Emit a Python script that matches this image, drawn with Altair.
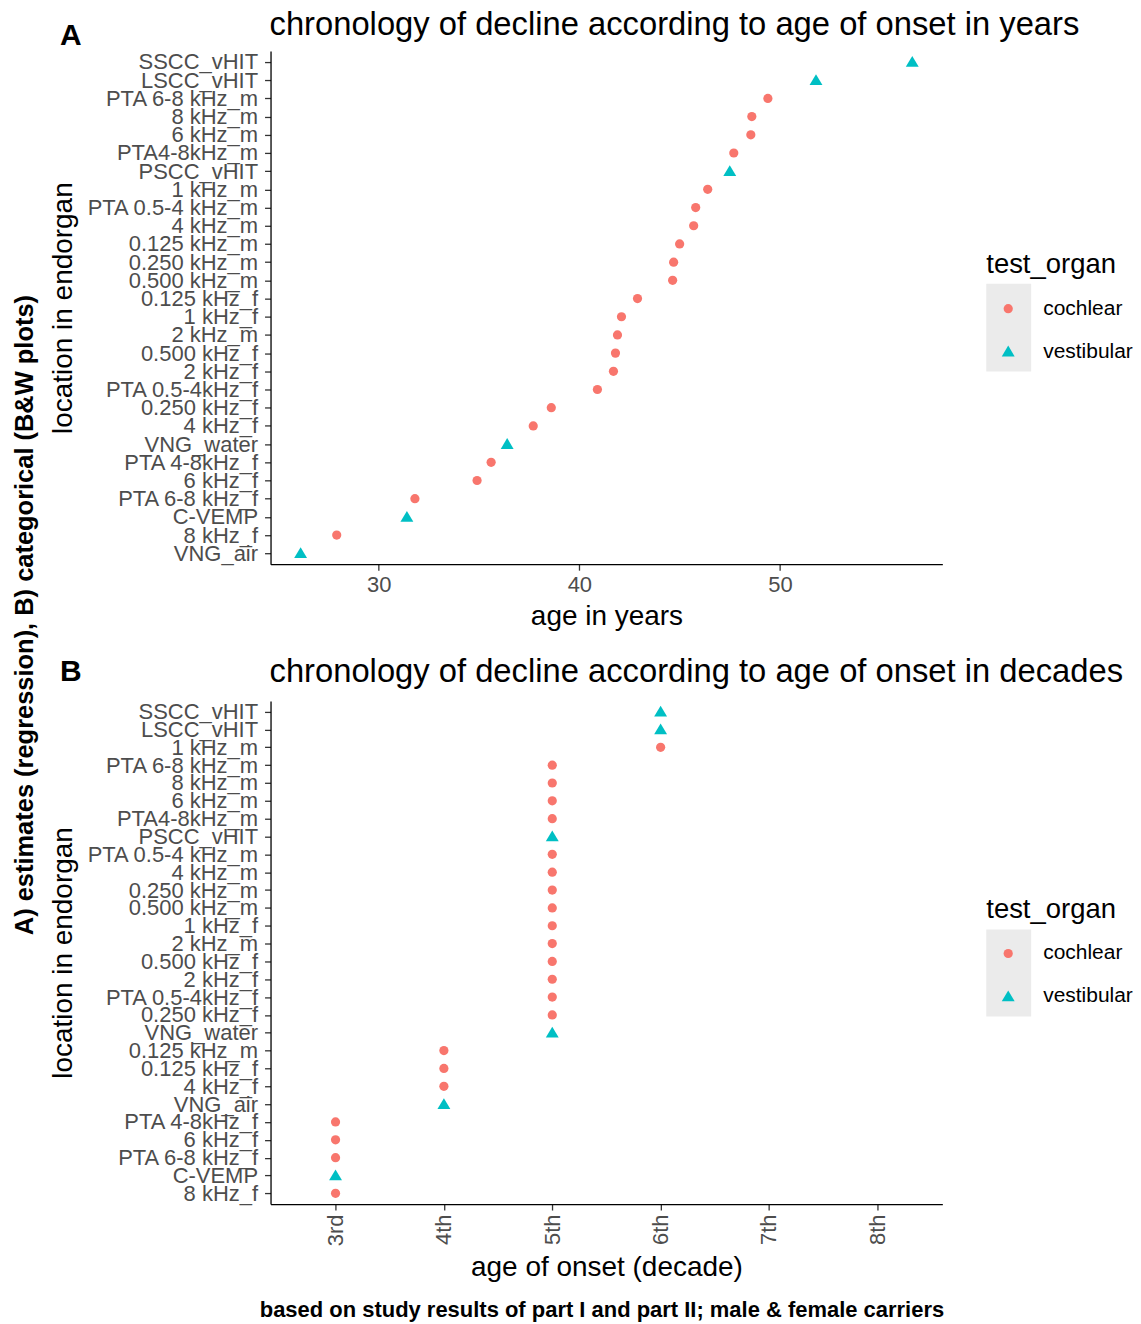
import altair as alt
import pandas as pd

# ---------------- data ----------------
# Panel A: estimated age of onset in years (top to bottom order)
labels_a = ["SSCC_vHIT", "LSCC_vHIT", "PTA 6-8 kHz_m", "8 kHz_m", "6 kHz_m",
            "PTA4-8kHz_m", "PSCC_vHIT", "1 kHz_m", "PTA 0.5-4 kHz_m", "4 kHz_m",
            "0.125 kHz_m", "0.250 kHz_m", "0.500 kHz_m", "0.125 kHz_f", "1 kHz_f",
            "2 kHz_m", "0.500 kHz_f", "2 kHz_f", "PTA 0.5-4kHz_f", "0.250 kHz_f",
            "4 kHz_f", "VNG_water", "PTA 4-8kHz_f", "6 kHz_f", "PTA 6-8 kHz_f",
            "C-VEMP", "8 kHz_f", "VNG_air"]
ages_a = [56.6, 51.8, 49.4, 48.6, 48.55, 47.7, 47.5, 46.4, 45.8, 45.7,
          45.0, 44.7, 44.65, 42.9, 42.1, 41.9, 41.8, 41.7, 40.9, 38.6,
          37.7, 36.4, 35.6, 34.9, 31.8, 31.4, 27.9, 26.1]
organ_a = ["vestibular", "vestibular", "cochlear", "cochlear", "cochlear",
           "cochlear", "vestibular", "cochlear", "cochlear", "cochlear",
           "cochlear", "cochlear", "cochlear", "cochlear", "cochlear",
           "cochlear", "cochlear", "cochlear", "cochlear", "cochlear",
           "cochlear", "vestibular", "cochlear", "cochlear", "cochlear",
           "vestibular", "cochlear", "vestibular"]

# Panel B: age of onset in decades (top to bottom order)
labels_b = ["SSCC_vHIT", "LSCC_vHIT", "1 kHz_m", "PTA 6-8 kHz_m", "8 kHz_m",
            "6 kHz_m", "PTA4-8kHz_m", "PSCC_vHIT", "PTA 0.5-4 kHz_m", "4 kHz_m",
            "0.250 kHz_m", "0.500 kHz_m", "1 kHz_f", "2 kHz_m", "0.500 kHz_f",
            "2 kHz_f", "PTA 0.5-4kHz_f", "0.250 kHz_f", "VNG_water", "0.125 kHz_m",
            "0.125 kHz_f", "4 kHz_f", "VNG_air", "PTA 4-8kHz_f", "6 kHz_f",
            "PTA 6-8 kHz_f", "C-VEMP", "8 kHz_f"]
decade_b = ["6th", "6th", "6th", "5th", "5th", "5th", "5th", "5th", "5th", "5th",
            "5th", "5th", "5th", "5th", "5th", "5th", "5th", "5th", "5th", "4th",
            "4th", "4th", "4th", "3rd", "3rd", "3rd", "3rd", "3rd"]
organ_b = ["vestibular", "vestibular", "cochlear", "cochlear", "cochlear",
           "cochlear", "cochlear", "vestibular", "cochlear", "cochlear",
           "cochlear", "cochlear", "cochlear", "cochlear", "cochlear",
           "cochlear", "cochlear", "cochlear", "vestibular", "cochlear",
           "cochlear", "cochlear", "vestibular", "cochlear", "cochlear",
           "cochlear", "vestibular", "cochlear"]
decades = ["3rd", "4th", "5th", "6th", "7th", "8th"]
organs = ["cochlear", "vestibular"]
organ_colors = ["#F8766D", "#00BFC4"]
organ_shapes = ["circle", "M0,-1.3L1.4,1.05L-1.4,1.05Z"]

title_a = ["chronology of decline according to age of onset in years"]
title_b = ["chronology of decline according to age of onset in decades"]
tag_a = ["A"]
tag_b = ["B"]
side_label = ["A) estimates (regression), B) categorical (B&W plots)"]
caption = ["based on study results of part I and part II; male & female carriers"]

FONT = "Liberation Sans"
W = 673
HA = 514
HB = 504
LX = 717

df_a = pd.DataFrame({"label": labels_a, "age": ages_a, "test_organ": organ_a})
df_b = pd.DataFrame({"label": labels_b, "decade": decade_b, "test_organ": organ_b})

axis_common = dict(
    grid=False, domainColor="black", domainWidth=1.3,
    tickColor="#333333", tickWidth=1.3, tickSize=6,
    labelColor="#4D4D4D", labelFontSize=22, labelFont=FONT,
    titleColor="black", titleFontSize=28, titleFont=FONT, titleFontWeight="normal",
)


def legend(ly):
    return alt.Legend(
        title="test_organ", orient="none", legendX=LX, legendY=ly,
        titleFontSize=27.5, titleFont=FONT, titleFontWeight="normal", titleColor="black",
        labelFontSize=21, labelFont=FONT, labelColor="black",
        symbolSize=85, symbolOffset=11.5, labelOffset=24.5, rowPadding=21,
        titlePadding=20, symbolStrokeWidth=0,
    )


def key_bg(y1, y2):
    return alt.Chart(pd.DataFrame({"k": [0]})).mark_rect(color="#EBEBEB").encode(
        x=alt.value(LX), x2=alt.value(LX + 45), y=alt.value(y1), y2=alt.value(y2)
    )


def text_layer(vals, **kw):
    enc = {k: kw.pop(k) for k in ["x", "y"]}
    return alt.Chart(pd.DataFrame({"t": vals})).mark_text(font=FONT, **kw).encode(
        text="t:N", **enc
    )


points_a = alt.Chart(df_a).mark_point(filled=True, size=85, opacity=1).encode(
    x=alt.X("age:Q", title="age in years",
            scale=alt.Scale(domain=[24.6, 58.1], nice=False, zero=False),
            axis=alt.Axis(values=[30, 40, 50], labelPadding=4, titlePadding=7, **axis_common)),
    y=alt.Y("label:N", title="location in endorgan", sort=labels_a,
            scale=alt.Scale(padding=0.6),
            axis=alt.Axis(labelPadding=7, titlePadding=8, **axis_common)),
    color=alt.Color("test_organ:N", scale=alt.Scale(domain=organs, range=organ_colors),
                    legend=legend(200)),
    shape=alt.Shape("test_organ:N", scale=alt.Scale(domain=organs, range=organ_shapes),
                    legend=legend(200)),
)

chart_a = alt.layer(
    key_bg(233, 321),
    points_a,
    text_layer(title_a, x=alt.value(-1), y=alt.value(-16), fontSize=32.8,
               align="left", baseline="alphabetic", color="black"),
    text_layer(tag_a, x=alt.value(-211), y=alt.value(-6), fontSize=30,
               fontWeight="bold", align="left", baseline="alphabetic", color="black"),
    text_layer(side_label, x=alt.value(-246), y=alt.value(565), fontSize=25.5,
               fontWeight="bold", angle=270, align="center", baseline="middle",
               color="black"),
).properties(width=W, height=HA)

points_b = alt.Chart(df_b).mark_point(filled=True, size=85, opacity=1).encode(
    x=alt.X("decade:O", title="age of onset (decade)",
            scale=alt.Scale(domain=decades, padding=0.6),
            axis=alt.Axis(labelAngle=270, labelAlign="right", labelBaseline="middle",
                          labelPadding=4, titlePadding=8, **axis_common)),
    y=alt.Y("label:N", title="location in endorgan", sort=labels_b,
            scale=alt.Scale(padding=0.6),
            axis=alt.Axis(labelPadding=7, titlePadding=8, **axis_common)),
    color=alt.Color("test_organ:N", scale=alt.Scale(domain=organs, range=organ_colors),
                    legend=legend(195)),
    shape=alt.Shape("test_organ:N", scale=alt.Scale(domain=organs, range=organ_shapes),
                    legend=legend(195)),
)

chart_b = alt.layer(
    key_bg(229, 316),
    points_b,
    text_layer(title_b, x=alt.value(-1), y=alt.value(-19), fontSize=32.8,
               align="left", baseline="alphabetic", color="black"),
    text_layer(tag_b, x=alt.value(-211), y=alt.value(-20), fontSize=30,
               fontWeight="bold", align="left", baseline="alphabetic", color="black"),
    text_layer(caption, x=alt.value(332), y=alt.value(610), fontSize=22,
               fontWeight="bold", align="center", baseline="middle", color="black"),
).properties(width=W, height=HB)

chart = alt.vconcat(chart_a, chart_b, spacing=137, bounds="flush").resolve_scale(
    color="independent", shape="independent", x="independent", y="independent"
).properties(
    padding={"left": 5, "top": 0, "right": 0, "bottom": 0}
).configure(background="white").configure_view(stroke="transparent", strokeWidth=0)

chart.save("out.html", embed_options={"renderer": "svg", "actions": False})
